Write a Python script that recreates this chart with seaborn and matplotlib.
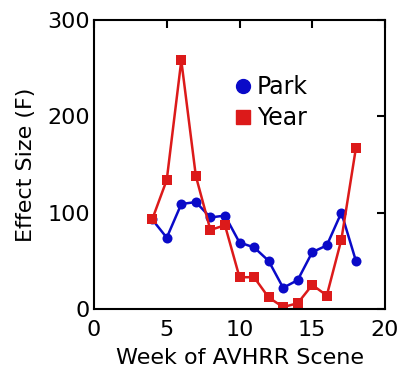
import matplotlib
matplotlib.use("Agg")
import matplotlib.pyplot as plt
from matplotlib.lines import Line2D
import seaborn as sns
import pandas as pd

weeks = [4, 5, 6, 7, 8, 9, 10, 11, 12, 13, 14, 15, 16, 17, 18]
park = [93, 74, 109, 111, 95, 97, 69, 64, 50, 22, 30, 59, 66, 100, 50]
year = [93, 134, 258, 138, 82, 87, 33, 33, 12, 2, 6, 25, 14, 72, 167]
series_names = ["Park", "Year"]
x_ticks = [0, 5, 10, 15, 20]
y_ticks = [0, 100, 200, 300]

blue = "#0A0AC8"
red = "#DC1A1A"

sns.set_theme(style="white")
plt.rcParams["font.family"] = ["DejaVu Sans"]
plt.rcParams["text.color"] = "black"
plt.rcParams["axes.labelcolor"] = "black"

df = pd.DataFrame({
    "week": weeks * 2,
    "value": park + year,
    "series": [series_names[0]] * len(weeks) + [series_names[1]] * len(weeks),
})

fig = plt.figure(figsize=(4.03, 3.77), dpi=100)
ax = fig.add_axes([94 / 403, 68 / 377, 291 / 403, 289 / 377])

sns.lineplot(data=df, x="week", y="value", hue="series", style="series",
             palette={"Park": blue, "Year": red},
             markers={"Park": "o", "Year": "s"}, dashes=False,
             markersize=7.2, markeredgewidth=0, linewidth=1.8,
             legend=False, ax=ax)

ax.set_xlim(0, 20)
ax.set_ylim(0, 300)
ax.set_xticks(x_ticks)
ax.set_yticks(y_ticks)
ax.tick_params(direction="in", length=6, width=1.5, top=True, right=True,
               labeltop=False, labelright=False, labelsize=16, pad=3,
               colors="black")
ax.tick_params(axis="x", pad=8)
for s in ax.spines.values():
    s.set_linewidth(1.5)
    s.set_color("black")
ax.set_xlabel("Week of AVHRR Scene", fontsize=16, labelpad=6, color="black")
ax.set_ylabel("Effect Size (F)", fontsize=16, labelpad=8, color="black")

handles = [
    Line2D([], [], color=blue, marker="o", linestyle="none", markersize=10),
    Line2D([], [], color=red, marker="s", linestyle="none", markersize=10),
]
ax.legend(handles, series_names, loc="upper left",
          bbox_to_anchor=(231 / 403, 1 - 75 / 377), bbox_transform=fig.transFigure,
          frameon=False, fontsize=17, handletextpad=0.1, handlelength=1.0,
          labelspacing=0.3, borderaxespad=0, borderpad=0, labelcolor="black")

fig.savefig("out.png", dpi=100)
